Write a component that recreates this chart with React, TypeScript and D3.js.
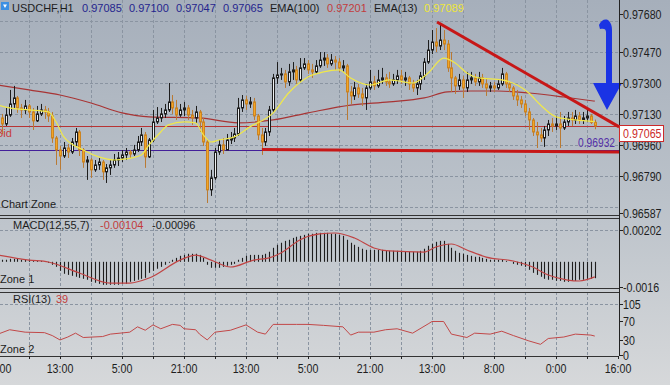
import React, { useRef, useEffect } from 'react';
import * as d3 from 'd3';

// USDCHF H1 candles (open = previous close)
const firstOpen = 0.97120;
const closes = [
  0.97109, 0.97076, 0.97125, 0.97186, 0.97219, 0.97164, 0.97153, 0.97175, 0.97142, 0.97093,
  0.97131, 0.97153, 0.97142, 0.97120, 0.96999, 0.96933, 0.96900, 0.96944, 0.96922, 0.96977,
  0.97032, 0.96933, 0.96867, 0.96878, 0.96824, 0.96851, 0.96867, 0.96813, 0.96835, 0.96851,
  0.96878, 0.96889, 0.96906, 0.96922, 0.96911, 0.96933, 0.96977, 0.97016, 0.96895, 0.96988,
  0.97087, 0.97109, 0.97131, 0.97153, 0.97197, 0.97164, 0.97125, 0.97153, 0.97164, 0.97125,
  0.97109, 0.97142, 0.97087, 0.96977, 0.96714, 0.96780, 0.96922, 0.96961, 0.96933, 0.96988,
  0.96999, 0.97021, 0.97164, 0.97208, 0.97186, 0.97197, 0.97120, 0.97016, 0.96977, 0.97032,
  0.97153, 0.97329, 0.97345, 0.97351, 0.97307, 0.97362, 0.97373, 0.97318, 0.97384, 0.97406,
  0.97373, 0.97362, 0.97395, 0.97427, 0.97438, 0.97406, 0.97427, 0.97416, 0.97384, 0.97395,
  0.97252, 0.97230, 0.97274, 0.97241, 0.97219, 0.97274, 0.97307, 0.97285, 0.97318, 0.97329,
  0.97307, 0.97296, 0.97318, 0.97340, 0.97318, 0.97329, 0.97296, 0.97274, 0.97296, 0.97340,
  0.97416, 0.97482, 0.97526, 0.97504, 0.97537, 0.97515, 0.97384, 0.97329, 0.97285, 0.97318,
  0.97274, 0.97318, 0.97329, 0.97307, 0.97329, 0.97296, 0.97274, 0.97285, 0.97274, 0.97296,
  0.97351, 0.97296, 0.97274, 0.97230, 0.97208, 0.97186, 0.97142, 0.97098, 0.97032, 0.97016,
  0.96999, 0.97043, 0.97076, 0.97065, 0.97076, 0.97054, 0.97087, 0.97109, 0.97098, 0.97120,
  0.97098, 0.97109, 0.97120, 0.97085, 0.97065,
];
const highs = [
  0.97142, 0.97131, 0.97164, 0.97263, 0.97285, 0.97230, 0.97186, 0.97208, 0.97186, 0.97164,
  0.97175, 0.97186, 0.97175, 0.97164, 0.97142, 0.97010, 0.96955, 0.96977, 0.96966, 0.96999,
  0.97054, 0.97043, 0.96944, 0.96900, 0.96889, 0.96878, 0.96889, 0.96878, 0.96856, 0.96878,
  0.96911, 0.96922, 0.96933, 0.96944, 0.96933, 0.96961, 0.97010, 0.97054, 0.97032, 0.96999,
  0.97153, 0.97169, 0.97164, 0.97186, 0.97301, 0.97235, 0.97208, 0.97186, 0.97197, 0.97180,
  0.97153, 0.97175, 0.97153, 0.97109, 0.96988, 0.96824, 0.96944, 0.96988, 0.96999, 0.97021,
  0.97032, 0.97054, 0.97219, 0.97235, 0.97230, 0.97224, 0.97219, 0.97131, 0.97054, 0.97054,
  0.97175, 0.97351, 0.97416, 0.97384, 0.97373, 0.97406, 0.97416, 0.97395, 0.97438, 0.97438,
  0.97427, 0.97406, 0.97427, 0.97471, 0.97471, 0.97460, 0.97460, 0.97449, 0.97438, 0.97427,
  0.97406, 0.97285, 0.97307, 0.97296, 0.97274, 0.97296, 0.97373, 0.97340, 0.97373, 0.97384,
  0.97351, 0.97362, 0.97351, 0.97373, 0.97373, 0.97362, 0.97340, 0.97318, 0.97318, 0.97362,
  0.97438, 0.97537, 0.97592, 0.97603, 0.97625, 0.97592, 0.97537, 0.97471, 0.97340, 0.97351,
  0.97340, 0.97362, 0.97362, 0.97351, 0.97362, 0.97351, 0.97329, 0.97307, 0.97307, 0.97318,
  0.97384, 0.97362, 0.97307, 0.97285, 0.97263, 0.97230, 0.97208, 0.97164, 0.97109, 0.97087,
  0.97054, 0.97065, 0.97098, 0.97109, 0.97120, 0.97142, 0.97120, 0.97142, 0.97142, 0.97153,
  0.97142, 0.97142, 0.97153, 0.97131, 0.97100,
];
const lows = [
  0.97076, 0.97021, 0.97065, 0.97115, 0.97164, 0.97137, 0.97109, 0.97131, 0.97109, 0.97043,
  0.97087, 0.97120, 0.97104, 0.97087, 0.96972, 0.96851, 0.96824, 0.96889, 0.96889, 0.96911,
  0.96955, 0.96900, 0.96835, 0.96769, 0.96780, 0.96813, 0.96824, 0.96769, 0.96752, 0.96796,
  0.96835, 0.96845, 0.96867, 0.96878, 0.96889, 0.96900, 0.96922, 0.96955, 0.96835, 0.96889,
  0.96977, 0.97076, 0.97087, 0.97109, 0.97142, 0.97131, 0.97098, 0.97115, 0.97120, 0.97098,
  0.97071, 0.97076, 0.97032, 0.96955, 0.96642, 0.96681, 0.96769, 0.96906, 0.96911, 0.96944,
  0.96966, 0.96977, 0.97010, 0.97142, 0.97153, 0.97164, 0.97098, 0.96988, 0.96906, 0.96955,
  0.97010, 0.97142, 0.97296, 0.97318, 0.97274, 0.97285, 0.97318, 0.97296, 0.97307, 0.97373,
  0.97351, 0.97329, 0.97351, 0.97384, 0.97395, 0.97384, 0.97395, 0.97373, 0.97362, 0.97362,
  0.97098, 0.97186, 0.97208, 0.97219, 0.97175, 0.97153, 0.97263, 0.97263, 0.97274, 0.97296,
  0.97285, 0.97274, 0.97285, 0.97296, 0.97296, 0.97285, 0.97263, 0.97252, 0.97235, 0.97263,
  0.97318, 0.97406, 0.97460, 0.97471, 0.97482, 0.97482, 0.97362, 0.97252, 0.97241, 0.97263,
  0.97219, 0.97252, 0.97296, 0.97285, 0.97285, 0.97274, 0.97230, 0.97252, 0.97252, 0.97263,
  0.97285, 0.97274, 0.97252, 0.97208, 0.97175, 0.97164, 0.97120, 0.97043, 0.97010, 0.96944,
  0.96977, 0.96950, 0.97010, 0.97032, 0.97043, 0.96944, 0.97043, 0.97065, 0.97065, 0.97076,
  0.97076, 0.97076, 0.97087, 0.97076, 0.97047,
];

// moving averages, sampled at candle indices
const ema13Idx = [0, 3, 8, 13, 15, 17, 22, 26, 30, 33, 37, 39, 42, 44, 48, 51, 53, 55, 57, 61, 65, 71, 75, 80, 84, 88, 91, 96, 101, 107, 111, 115, 118, 121, 124, 130, 134, 137, 140, 144, 149, 154];
const ema13 = [0.97180, 0.97164, 0.97153, 0.97142, 0.97087, 0.97005, 0.96933, 0.96895, 0.96878, 0.96884, 0.96906, 0.96961, 0.97032, 0.97071, 0.97087, 0.97082, 0.97016, 0.96977, 0.96988, 0.97005, 0.97060, 0.97137, 0.97246, 0.97334, 0.97362, 0.97373, 0.97329, 0.97290, 0.97318, 0.97301, 0.97356, 0.97438, 0.97411, 0.97356, 0.97329, 0.97318, 0.97290, 0.97246, 0.97180, 0.97115, 0.97098, 0.97089];
const ema100Idx = [0, 8, 16, 24, 32, 39, 52, 62, 71, 80, 91, 101, 110, 116, 122, 129, 137, 146, 154];
const ema100 = [0.97290, 0.97263, 0.97235, 0.97191, 0.97137, 0.97115, 0.97109, 0.97082, 0.97098, 0.97137, 0.97180, 0.97197, 0.97219, 0.97252, 0.97257, 0.97257, 0.97246, 0.97224, 0.97201];

// MACD(12,55,7) histogram, one bar per candle
const macd = [
  0.00019, 0.00013, 0.00013, 0.00019, 0.00019, 0.00019, 0.00013, 0.00013, 0.00013, 0.00006,
  0.00006, 0.00006, 0, -0.00006, -0.00019, -0.00032, -0.00057, -0.00076, -0.00083, -0.00089,
  -0.00095, -0.00102, -0.00108, -0.00114, -0.00127, -0.00133, -0.00140, -0.00146, -0.00146, -0.00146,
  -0.00146, -0.00146, -0.00140, -0.00140, -0.00127, -0.00121, -0.00114, -0.00108, -0.00102, -0.00070,
  -0.00057, -0.00044, -0.00032, -0.00019, -0.00006, 0.00013, 0.00025, 0.00038, 0.00044, 0.00051,
  0.00051, 0.00051, 0.00044, 0.00025, -0.00019, -0.00038, -0.00038, -0.00038, -0.00032, -0.00025,
  -0.00019, -0.00013, 0.00013, 0.00025, 0.00038, 0.00044, 0.00044, 0.00044, 0.00044, 0.00051,
  0.00064, 0.00089, 0.00108, 0.00121, 0.00133, 0.00140, 0.00152, 0.00159, 0.00165, 0.00171,
  0.00178, 0.00178, 0.00184, 0.00184, 0.00184, 0.00184, 0.00178, 0.00178, 0.00171, 0.00165,
  0.00140, 0.00121, 0.00108, 0.00095, 0.00083, 0.00076, 0.00076, 0.00076, 0.00076, 0.00076,
  0.00070, 0.00070, 0.00070, 0.00070, 0.00070, 0.00064, 0.00064, 0.00064, 0.00064, 0.00070,
  0.00083, 0.00102, 0.00114, 0.00127, 0.00133, 0.00133, 0.00114, 0.00089, 0.00070, 0.00057,
  0.00051, 0.00044, 0.00038, 0.00032, 0.00032, 0.00025, 0.00019, 0.00013, 0.00013, 0.00013,
  0.00013, 0.00006, 0, -0.00013, -0.00019, -0.00025, -0.00032, -0.00051, -0.00070, -0.00083,
  -0.00095, -0.00108, -0.00114, -0.00114, -0.00121, -0.00121, -0.00127, -0.00127, -0.00121, -0.00121,
  -0.00114, -0.00114, -0.00108, -0.00108, -0.00104,
];
const signalIdx = [0, 8, 13, 21, 29, 34, 39, 47, 51, 55, 60, 66, 70, 73, 78, 83, 87, 92, 97, 101, 110, 113, 117, 121, 126, 133, 138, 142, 147, 150, 154];
const signal = [0.00043, 0.00011, -0.00001, -0.00071, -0.00135, -0.00135, -0.00103, 0.00011, 0.00043, 0.00011, -0.00033, 0.00011, 0.00025, 0.00056, 0.00140, 0.00177, 0.00183, 0.00151, 0.00088, 0.00069, 0.00062, 0.00094, 0.00113, 0.00075, 0.00030, 0.00005, -0.00033, -0.00084, -0.00116, -0.00122, -0.00096];

// RSI(13)
const rsiIdx = [0, 3, 7, 12, 14, 16, 18, 20, 22, 27, 29, 34, 36, 38, 40, 42, 45, 47, 48, 51, 52, 54, 56, 60, 64, 67, 69, 71, 77, 80, 84, 89, 91, 93, 97, 100, 103, 107, 111, 112, 115, 117, 121, 123, 127, 130, 133, 137, 140, 142, 146, 149, 153, 154];
const rsi = [43, 52, 47, 46, 40, 31, 37, 45, 36, 38, 43, 47, 58, 51, 62, 54, 63, 61, 54, 52, 43, 31, 47, 51, 62, 47, 43, 63, 63, 63, 61, 58, 41, 47, 47, 52, 54, 45, 64, 69, 69, 43, 36, 45, 43, 49, 40, 29, 22, 34, 37, 43, 41, 39];

const timeLabels = ['21:00', '13:00', '5:00', '21:00', '13:00', '5:00', '21:00', '13:00', '8:00', '0:00', '16:00'];
const priceGrid = [0.97640, 0.97470, 0.97300, 0.97130, 0.96960, 0.96790, 0.96620];
const priceLabels = [0.97680, 0.97470, 0.97300, 0.97130, 0.96960, 0.96790, 0.96587];
const macdLabels = [0.00202, -0.0016];
const rsiLabels = [105, 70, 30, 0];

const bidPrice = 0.97065;
const supportPrice = 0.96932;
const trendTop: [number, number][] = [[113.3, 0.97636], [160.3, 0.97060]];
const trendBottom: [number, number][] = [[68.1, 0.96936], [160.3, 0.96922]];

const SANS = "'Liberation Sans',Arial,sans-serif";

const App = () => {
  const svgRef = useRef<SVGSVGElement>(null);

  useEffect(() => {
    const svg = d3.select(svgRef.current);
    svg.selectAll('*').remove();

    const width = 670, height = 385;
    const axisX = 619;
    const main = { top: 0, bottom: 215 };
    const mac = { top: 218, bottom: 288 };
    const rs = { top: 292, bottom: 356 };

    const x = d3.scaleLinear().domain([0, 160]).range([-2, 618]);
    const y = d3.scaleLinear().domain([0.96587, 0.97680]).range([213, 14]);
    const yM = d3.scaleLinear().domain([-0.0016, 0.00202]).range([287, 230]);
    const yR = d3.scaleLinear().domain([0, 105]).range([355, 304]);

    const defs = svg.append('defs');
    const grad = defs.append('linearGradient').attr('id', 'bg').attr('x1', 0).attr('y1', 0).attr('x2', 0).attr('y2', 1);
    grad.append('stop').attr('offset', '0%').attr('stop-color', '#a6afbb');
    grad.append('stop').attr('offset', '50%').attr('stop-color', '#bac1c9');
    grad.append('stop').attr('offset', '100%').attr('stop-color', '#d6d8da');
    defs.append('clipPath').attr('id', 'clipMain').append('rect')
      .attr('x', 0).attr('y', main.top).attr('width', axisX).attr('height', main.bottom - main.top);
    defs.append('clipPath').attr('id', 'clipMacd').append('rect')
      .attr('x', 0).attr('y', mac.top).attr('width', axisX).attr('height', mac.bottom - mac.top);
    defs.append('clipPath').attr('id', 'clipRsi').append('rect')
      .attr('x', 0).attr('y', rs.top).attr('width', axisX).attr('height', rs.bottom - rs.top);

    svg.append('rect').attr('width', width).attr('height', height).attr('fill', 'url(#bg)');

    // narrow axis font: Arial squeezed horizontally
    const narrow = (g: any, xx: number, yy: number, txt: string, color: string, size = 13, anchor = 'start') =>
      g.append('text').attr('transform', `translate(${xx},${yy}) scale(0.82,1)`)
        .attr('dy', '0.36em').attr('text-anchor', anchor).text(txt)
        .attr('font-family', SANS).attr('font-size', size).attr('fill', color);

    // vertical grid, every 8 candles
    const vGrid = d3.range(8, 160, 8);
    [main, mac, rs].forEach(p => {
      svg.append('g').selectAll('line').data(vGrid).enter().append('line')
        .attr('x1', d => Math.round(x(d)) + 0.5).attr('x2', d => Math.round(x(d)) + 0.5)
        .attr('y1', p.top).attr('y2', p.bottom)
        .attr('stroke', '#8a94a1').attr('stroke-dasharray', '3,2');
    });
    const hLine = (yy: number) => svg.append('line')
      .attr('x1', 0).attr('x2', axisX).attr('y1', Math.round(yy) + 0.5).attr('y2', Math.round(yy) + 0.5)
      .attr('stroke', '#8a94a1').attr('stroke-dasharray', '3,2');
    priceGrid.forEach(p => hLine(y(p)));
    hLine(yM(macdLabels[0]));
    hLine(yR(rsiLabels[0]));

    // main panel
    const gMain = svg.append('g').attr('clip-path', 'url(#clipMain)');

    gMain.append('line').attr('x1', 0).attr('x2', axisX)
      .attr('y1', Math.round(y(supportPrice)) + 0.5).attr('y2', Math.round(y(supportPrice)) + 0.5)
      .attr('stroke', '#43209a').attr('stroke-width', 1);
    gMain.append('line').attr('x1', 0).attr('x2', axisX)
      .attr('y1', Math.round(y(bidPrice)) + 0.5).attr('y2', Math.round(y(bidPrice)) + 0.5)
      .attr('stroke', '#b83434').attr('stroke-width', 1);

    const ma = (idx: number[], vals: number[], color: string) => {
      const pts = idx.map((d, i) => [x(d), y(vals[i])] as [number, number]);
      gMain.append('path').attr('d', d3.line().curve(d3.curveMonotoneX)(pts))
        .attr('fill', 'none').attr('stroke', color).attr('stroke-width', 1.2);
    };
    ma(ema100Idx, ema100, '#a83434');

    const candles = closes.map((c, i) => {
      const o = i === 0 ? firstOpen : closes[i - 1];
      return { i, o, c, h: Math.max(highs[i], o, c), l: Math.min(lows[i], o, c) };
    });
    const cg = gMain.append('g');
    candles.forEach(d => {
      const cx = Math.round(x(d.i)) + 0.5;
      const bull = d.c >= d.o;
      cg.append('line').attr('x1', cx).attr('x2', cx).attr('y1', y(d.h)).attr('y2', y(d.l))
        .attr('stroke', bull ? '#1d1d1d' : '#b97a34').attr('stroke-width', 1);
      const top = y(Math.max(d.o, d.c));
      const hgt = Math.max(1, Math.abs(y(d.o) - y(d.c)));
      cg.append('rect').attr('x', cx - 1).attr('y', top).attr('width', 2).attr('height', hgt)
        .attr('fill', bull ? '#eef0f2' : '#f3a626')
        .attr('stroke', bull ? '#1d1d1d' : '#cc8421').attr('stroke-width', 1);
    });

    ma(ema13Idx, ema13, '#f0e84a');

    // trend lines and arrow
    [trendTop, trendBottom].forEach(t => {
      gMain.append('line')
        .attr('x1', x(t[0][0])).attr('y1', y(t[0][1]))
        .attr('x2', x(t[1][0])).attr('y2', y(t[1][1]))
        .attr('stroke', '#c71717').attr('stroke-width', 3);
    });
    svg.append('path')
      .attr('d', 'M599 25 C601 20 606 18 609 21 C611 23 612 26 612 30 L612 83 L622 83 L607 110 L593 83 L606 83 L606 32 C606 29 604 28 600 29 Z')
      .attr('fill', '#1a33e4');

    svg.append('text').attr('x', -4).attr('y', 137).text('Bid')
      .attr('font-family', SANS).attr('font-size', 11).attr('fill', '#c83a3a');
    narrow(svg, 578, 142, supportPrice.toFixed(5), '#5530a8', 12.5);

    // MACD panel
    const gMacd = svg.append('g').attr('clip-path', 'url(#clipMacd)');
    gMacd.selectAll('line').data(macd).enter().append('line')
      .attr('x1', (d, i) => Math.round(x(i)) + 0.5).attr('x2', (d, i) => Math.round(x(i)) + 0.5)
      .attr('y1', yM(0)).attr('y2', d => yM(d))
      .attr('stroke', '#1e1e1e').attr('stroke-width', 1.1);
    gMacd.append('path')
      .attr('d', d3.line().curve(d3.curveMonotoneX)(signalIdx.map((d, i) => [x(d), yM(signal[i])] as [number, number])))
      .attr('fill', 'none').attr('stroke', '#c04444').attr('stroke-width', 1.2);

    // RSI panel
    const gRsi = svg.append('g').attr('clip-path', 'url(#clipRsi)');
    gRsi.append('path')
      .attr('d', d3.line()(rsiIdx.map((d, i) => [x(d), yR(rsi[i])] as [number, number])))
      .attr('fill', 'none').attr('stroke', '#c24848').attr('stroke-width', 1);

    // panel frames
    const frame = (yy: number) => svg.append('line').attr('x1', 0).attr('x2', axisX)
      .attr('y1', yy + 0.5).attr('y2', yy + 0.5).attr('stroke', '#333').attr('stroke-width', 1);
    [main.bottom, mac.top, mac.bottom, rs.top, rs.bottom].forEach(frame);
    svg.append('line').attr('x1', axisX + 0.5).attr('x2', axisX + 0.5).attr('y1', 0).attr('y2', rs.bottom)
      .attr('stroke', '#222').attr('stroke-width', 1);

    // right axis labels
    const rightLabel = (yy: number, txt: string) => {
      svg.append('line').attr('x1', axisX).attr('x2', axisX + 4)
        .attr('y1', Math.round(yy) + 0.5).attr('y2', Math.round(yy) + 0.5).attr('stroke', '#222');
      narrow(svg, axisX + 4, yy, txt, '#1e1e1e');
    };
    priceLabels.forEach(p => rightLabel(y(p), p.toFixed(5)));
    rightLabel(yM(macdLabels[0]), macdLabels[0].toFixed(5));
    rightLabel(yM(macdLabels[1]), String(macdLabels[1]));
    rsiLabels.forEach(v => rightLabel(yR(v), String(v)));

    // current price box
    const last = closes[closes.length - 1];
    const by = Math.round(y(last)) - 0.5;
    svg.append('rect').attr('x', axisX + 0.5).attr('y', by).attr('width', 44).attr('height', 16)
      .attr('fill', '#ffffff').attr('stroke', '#cc2a2a').attr('stroke-width', 1);
    narrow(svg, axisX + 4, by + 8, last.toFixed(5), '#cc2a2a');

    // time axis
    svg.append('g').selectAll('line').data(d3.range(0, 161, 8)).enter().append('line')
      .attr('x1', d => Math.round(x(d)) + 0.5).attr('x2', d => Math.round(x(d)) + 0.5)
      .attr('y1', rs.bottom).attr('y2', rs.bottom + 3).attr('stroke', '#222');
    timeLabels.forEach((t, i) => narrow(svg, x(i * 16), 368, t, '#1e1e1e', 13, 'middle'));

    // header and zone captions
    svg.append('rect').attr('x', 1).attr('y', 2).attr('width', 8).attr('height', 8).attr('fill', '#3c8fe2');
    svg.append('path').attr('d', 'M3 4.5 L7 4.5 L5 8 Z').attr('fill', '#ffffff');
    const n = closes.length - 1;
    const header: [string, string, number][] = [
      ['USDCHF,H1', '#1c1c1c', 12],
      [closes[n - 1].toFixed(5), '#25258e', 82],
      [highs[n].toFixed(5), '#25258e', 129],
      [lows[n].toFixed(5), '#25258e', 176],
      [closes[n].toFixed(5), '#25258e', 223],
      ['EMA(100)', '#1c1c1c', 270],
      [ema100[ema100.length - 1].toFixed(5), '#c23c3c', 327],
      ['EMA(13)', '#1c1c1c', 374],
      [ema13[ema13.length - 1].toFixed(5), '#eee63a', 424],
    ];
    header.forEach(([t, c, xx]) => {
      svg.append('text').attr('x', xx).attr('y', 12).text(t)
        .attr('font-family', SANS).attr('font-size', 11).attr('fill', c);
    });

    const caption = (xx: number, yy: number, t: string, c = '#1c1c1c') =>
      svg.append('text').attr('x', xx).attr('y', yy).text(t)
        .attr('font-family', SANS).attr('font-size', 11).attr('fill', c);
    caption(1, 208, 'Chart Zone');
    caption(13, 229, 'MACD(12,55,7)');
    caption(100, 229, macd[n].toFixed(5), '#c23c3c');
    caption(152, 229, signal[signal.length - 1].toFixed(5));
    caption(0, 283, 'Zone 1');
    caption(13, 303, 'RSI(13)');
    caption(56, 303, String(rsi[rsi.length - 1]), '#c23c3c');
    caption(0, 353, 'Zone 2');
  }, []);

  return (
    <svg ref={svgRef} width={670} height={385}
      style={{ position: 'absolute', left: 0, top: 0, display: 'block' }} />
  );
};

export default App;
